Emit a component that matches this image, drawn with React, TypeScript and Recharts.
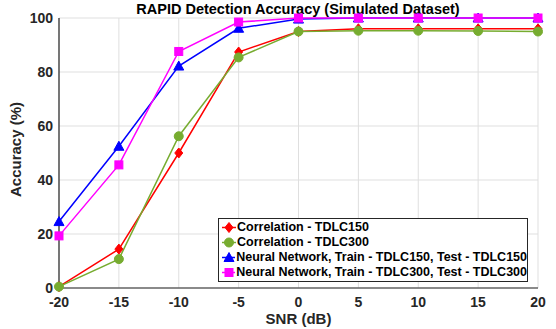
import React from 'react'
import {
  LineChart,
  Line,
  XAxis,
  YAxis,
  CartesianGrid,
} from 'recharts'

const snr = [-20, -15, -10, -5, 0, 5, 10, 15, 20]
const corr150 = [0.5, 14.4, 50, 87.4, 95, 96, 96, 96, 96]
const corr300 = [0.5, 10.7, 56.2, 85.4, 95, 95.3, 95.3, 95.2, 95]
const nn150 = [24.6, 52.5, 82.2, 96.2, 99.6, 100, 100, 100, 100]
const nn300 = [19.3, 45.6, 87.6, 98.5, 100, 100, 100, 100, 100]

const xTicks = [-20, -15, -10, -5, 0, 5, 10, 15, 20]
const yTicks = [0, 20, 40, 60, 80, 100]

const data = snr.map((s, i) => ({
  snr: s,
  corr150: corr150[i],
  corr300: corr300[i],
  nn150: nn150[i],
  nn300: nn300[i],
}))

const FONT = 'Liberation Sans, Arial, Helvetica, sans-serif'
const AXIS = '#262626'

const series = [
  { key: 'corr150', name: 'Correlation - TDLC150', color: '#ff0000', shape: 'diamond' },
  { key: 'corr300', name: 'Correlation - TDLC300', color: '#77ac30', shape: 'circle' },
  { key: 'nn150', name: 'Neural Network, Train - TDLC150, Test - TDLC150', color: '#0000ff', shape: 'triangle' },
  { key: 'nn300', name: 'Neural Network, Train - TDLC300, Test - TDLC300', color: '#ff00ff', shape: 'square' },
]

const Marker = ({ cx, cy, color, shape }: any) => {
  if (cx == null || cy == null) return null
  if (shape === 'diamond')
    return <polygon points={`${cx},${cy - 5} ${cx + 4},${cy} ${cx},${cy + 5} ${cx - 4},${cy}`} fill={color} stroke={color} />
  if (shape === 'triangle')
    return <polygon points={`${cx},${cy - 5} ${cx + 5},${cy + 4} ${cx - 5},${cy + 4}`} fill={color} stroke={color} />
  if (shape === 'square')
    return <rect x={cx - 4} y={cy - 4} width={8} height={8} fill={color} stroke={color} />
  return <circle cx={cx} cy={cy} r={4.5} fill={color} stroke={color} />
}

const LegendBox = () => (
  <div
    style={{
      position: 'absolute',
      left: 218,
      top: 218,
      width: 305,
      border: '1.5px solid #262626',
      background: '#fff',
      padding: '1px 0 1px 3px',
      fontFamily: FONT,
      fontWeight: 'bold',
      fontSize: 12.5,
      color: '#000',
      lineHeight: '15px',
    }}
  >
    {series.map((s) => (
      <div key={s.key} style={{ display: 'flex', alignItems: 'center', whiteSpace: 'nowrap' }}>
        <svg width={14} height={15} style={{ marginRight: 1 }}>
          <line x1={0} y1={7.5} x2={14} y2={7.5} stroke={s.color} strokeWidth={1.5} />
          <Marker cx={7} cy={7.5} color={s.color} shape={s.shape} />
        </svg>
        <span>{s.name}</span>
      </div>
    ))}
  </div>
)

export default function App() {
  return (
    <div style={{ position: 'absolute', left: 0, top: 0, width: 556, height: 329, background: '#fff' }}>
      <LineChart
        width={556}
        height={329}
        data={data}
        margin={{ top: 18, right: 18, bottom: 0, left: 0 }}
      >
        <CartesianGrid stroke="#dfdfdf" vertical horizontal />
        <XAxis
          dataKey="snr"
          type="number"
          domain={[-20, 20]}
          ticks={xTicks}
          height={41}
          stroke={AXIS}
          strokeWidth={1.2}
          tickSize={0}
          tickMargin={9}
          tick={{ fill: '#262626', fontFamily: FONT, fontWeight: 'bold', fontSize: 14 }}
          label={{ value: 'SNR (dB)', position: 'insideBottom', offset: 5, fill: '#262626', fontFamily: FONT, fontWeight: 'bold', fontSize: 15 }}
        />
        <XAxis
          xAxisId="top"
          dataKey="snr"
          type="number"
          orientation="top"
          domain={[-20, 20]}
          ticks={xTicks}
          height={0}
          stroke={AXIS}
          strokeWidth={1.2}
          tick={false}
          tickLine={false}
        />
        <YAxis
          type="number"
          domain={[0, 100]}
          ticks={yTicks}
          width={59}
          stroke={AXIS}
          strokeWidth={1.2}
          tickSize={0}
          tickMargin={6}
          tick={{ fill: '#262626', fontFamily: FONT, fontWeight: 'bold', fontSize: 14 }}
          label={{ value: 'Accuracy (%)', angle: -90, position: 'insideLeft', offset: 16, dy: 44, fill: '#262626', fontFamily: FONT, fontWeight: 'bold', fontSize: 15 }}
        />
        <YAxis
          yAxisId="right"
          orientation="right"
          type="number"
          domain={[0, 100]}
          ticks={yTicks}
          width={0}
          stroke={AXIS}
          strokeWidth={1.2}
          tick={false}
          tickLine={false}
        />
        {series.map((s) => (
          <Line
            key={s.key}
            dataKey={s.key}
            name={s.name}
            stroke={s.color}
            strokeWidth={1.5}
            isAnimationActive={false}
            dot={(p: any) => <Marker key={`${s.key}-${p.index}`} cx={p.cx} cy={p.cy} color={s.color} shape={s.shape} />}
            activeDot={false}
          />
        ))}
        <text
          x={298}
          y={14}
          textAnchor="middle"
          fontFamily={FONT}
          fontWeight="bold"
          fontSize={14.5}
          fill="#000"
        >
          RAPID Detection Accuracy (Simulated Dataset)
        </text>
      </LineChart>
      <LegendBox />
    </div>
  )
}
